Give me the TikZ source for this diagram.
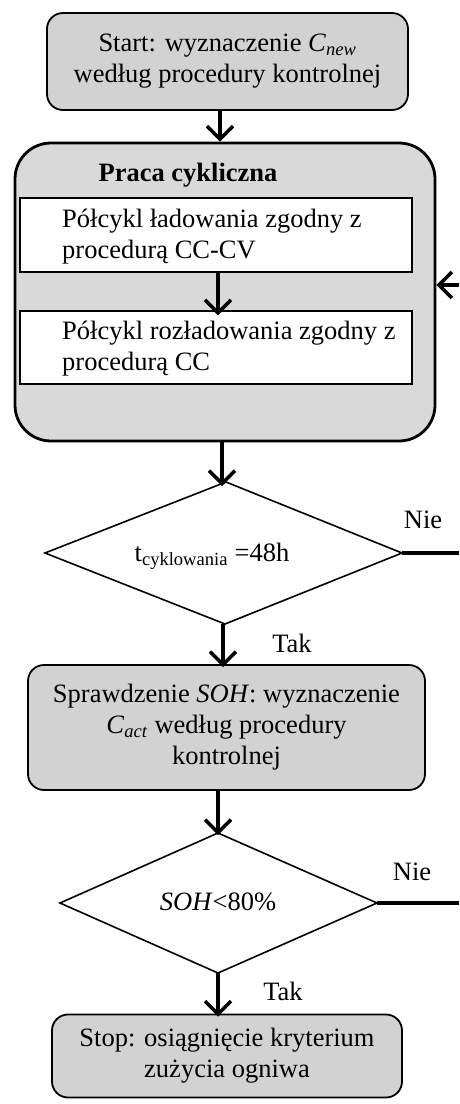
\documentclass[tikz,border=0pt]{standalone}
\usepackage{fontspec}
\setmainfont{Liberation Serif}
\usetikzlibrary{arrows.meta}
\begin{document}
\begin{tikzpicture}[x=1pt,y=-1pt,
  font=\fontsize{26.5}{31}\selectfont,
  term/.style={draw, line width=1.8pt, rounded corners=16pt, fill=gray!35, align=center, inner sep=0pt},
  bigbox/.style={draw, line width=2.8pt, rounded corners=36pt, fill=gray!30, inner sep=0pt},
  inbox/.style={draw, line width=1.3pt, fill=white, inner sep=0pt, minimum width=392pt},
  flow/.style={line width=3.5pt, -{Straight Barb[length=13pt,width=26pt,line width=3.5pt]}},
  dec/.style={draw, line width=1.6pt, fill=white, line join=miter},
  exitline/.style={line width=4pt}
]
\useasboundingbox (0,0) rectangle (459,1104);

% column positions of the arrows
\coordinate (xa) at (220,0);
\coordinate (xb) at (218,0);
\coordinate (xc) at (222,0);
\coordinate (xd) at (223,0);

% start box
\node[term, minimum width=361pt, minimum height=97pt] (start) at (227.5,61.5)
  {Start: wyznaczenie \textit{C}\textsubscript{\textit{new}}\\według procedury kontrolnej};

% cyclic work box
\node[bigbox, minimum width=420pt, minimum height=298pt] (cyc) at (225,292) {};
\node[font=\fontsize{26.5}{31}\selectfont\bfseries] (cyct) at (188,175) {Praca cykliczna};
\node[inbox, minimum height=74pt] (ch) at (216,235) {};
\node[anchor=west, align=left, inner sep=0pt] (cht) at (62,237) {Półcykl ładowania zgodny z\\procedurą CC-CV};
\node[inbox, minimum height=73pt] (dis) at (216,347.5) {};
\node[anchor=west, align=left, inner sep=0pt] (dist) at (62,349) {Półcykl rozładowania zgodny z\\procedurą CC};

% decision 1
\coordinate (d1t) at (226,482);
\coordinate (d1r) at (402,553);
\coordinate (d1b) at (225,624);
\coordinate (d1l) at (45,553);
\draw[dec] (d1t) -- (d1r) -- (d1b) -- (d1l) -- cycle;
\node (d1txt) at (212,556) {t\textsubscript{cyklowania} =48h};

% SOH check box
\node[term, minimum width=397pt, minimum height=125pt] (soh) at (226.5,727.5)
  {Sprawdzenie \textit{SOH}: wyznaczenie\\\textit{C}\textsubscript{\textit{act}} według procedury\\kontrolnej};

% decision 2
\coordinate (d2t) at (218,833);
\coordinate (d2r) at (377,903);
\coordinate (d2b) at (218,973);
\coordinate (d2l) at (60,903);
\draw[dec] (d2t) -- (d2r) -- (d2b) -- (d2l) -- cycle;
\node (d2txt) at (218,902) {\textit{SOH}<80\%};

% stop box
\node[term, minimum width=350pt, minimum height=83pt] (stop) at (227,1056)
  {Stop: osiągnięcie kryterium\\zużycia ogniwa};

% right edge ends
\coordinate (e0) at (459,285);
\coordinate (e1) at (459,553);
\coordinate (e2) at (459,903);

% connectors
\draw[flow] (start.south -| xa) -- (cyc.north -| xa);
\draw[flow] (ch.south -| xb) -- ([yshift=-5pt]dis.north -| xb);
\draw[flow] (cyc.south -| xc) -- ([yshift=-4pt]d1t -| xc);
\draw[flow] (d1b -| xd) -- ([yshift=-3pt]soh.north -| xd);
\draw[flow] (soh.south -| xb) -- ([yshift=-2pt]d2t -| xb);
\draw[flow] (d2b) -- ([yshift=-3pt]stop.north -| d2b);
\draw[flow] (e0) -- (cyc.east |- e0);
\draw[exitline] (d1r) -- (e1);
\draw[exitline] (d2r) -- (e2);

% labels
\node (nie1) at (423,520) {Nie};
\node (tak1) at (292,643) {Tak};
\node (nie2) at (412,872) {Nie};
\node (tak2) at (283,991) {Tak};
\end{tikzpicture}
\end{document}
